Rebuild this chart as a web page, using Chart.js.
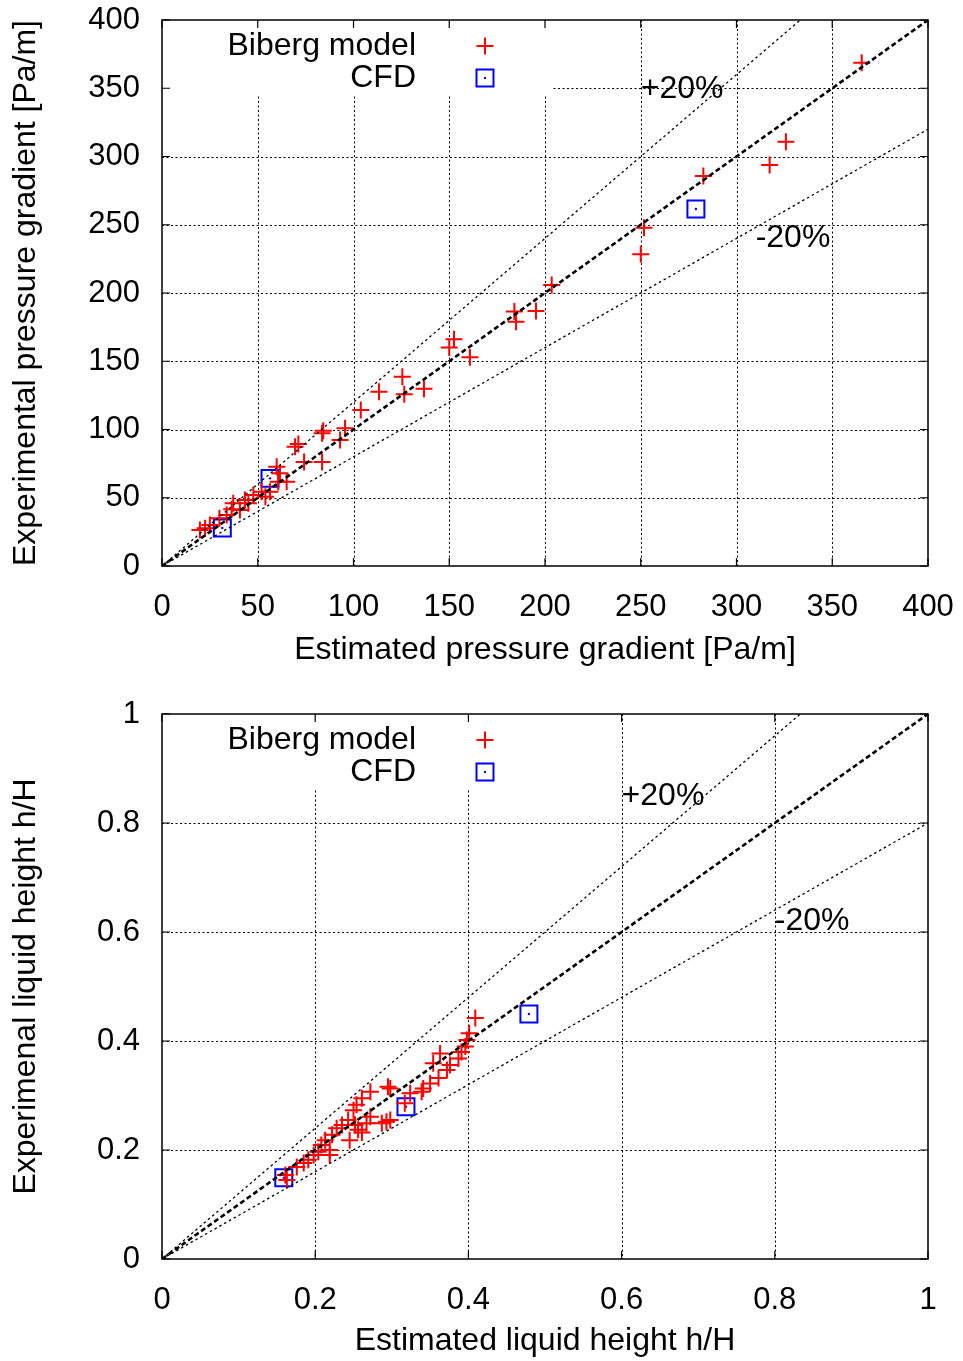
<!DOCTYPE html>
<html>
<head>
<meta charset="utf-8">
<script src="https://cdn.jsdelivr.net/npm/chart.js@4/dist/chart.umd.min.js"></script>
<style>
  html, body { margin: 0; padding: 0; background: #fff; }
  canvas { display: block; }
</style>
</head>
<body>
<canvas id="dp" width="963" height="680"></canvas>
<canvas id="hl" width="963" height="681"></canvas>
<script>
// Pressure gradient: estimated vs experimental [Pa/m]
const DP_BIBERG = [
  [19.8, 26.4], [22.5, 27.6], [25, 30], [30, 35], [33.8, 37.4], [36.4, 41.5], [37.2, 45.9],
  [40.7, 41], [43.3, 48.4], [45.1, 45.9], [47.7, 52], [52, 54.4], [54, 50.8], [56.4, 54.4],
  [59.9, 72.7], [61.6, 67.9], [65.1, 61.8], [60.7, 61.8], [69.5, 87.4], [71.2, 89.4],
  [74.2, 76.2], [83.6, 97.2], [84.2, 99.1], [83.6, 76.2], [93, 92.3], [95.6, 100.9],
  [103.8, 114.3], [113.3, 127.7], [125.5, 138.7], [126.5, 125.8], [136.8, 129.9],
  [150, 160], [152.5, 166.1], [160.8, 152.9], [184, 186.5], [184.9, 179], [195.3, 186.8],
  [203.5, 205.9], [250, 228.3], [251.7, 247.8], [282.7, 285.7], [317.3, 293.8],
  [325.8, 310.8], [365.4, 368.7]
];
const DP_CFD = [[31.5, 27.8], [56.4, 64.2], [278.8, 261.5]];
const DP_RANGE = [0, 400];
const DP_STEP = 50;
const DP_NOTES = [['+20%', 250, 349], ['-20%', 310, 240]];

// Liquid height: estimated vs experimental h/H
const HL_BIBERG = [
  [0.161, 0.154], [0.163, 0.145], [0.176, 0.169], [0.185, 0.176], [0.191, 0.182],
  [0.198, 0.191], [0.204, 0.197], [0.208, 0.209], [0.213, 0.218], [0.219, 0.200],
  [0.219, 0.191], [0.222, 0.228], [0.228, 0.240], [0.235, 0.246], [0.243, 0.255],
  [0.245, 0.218], [0.250, 0.273], [0.252, 0.246], [0.254, 0.283], [0.256, 0.237],
  [0.261, 0.295], [0.261, 0.232], [0.267, 0.249], [0.272, 0.307], [0.272, 0.261],
  [0.287, 0.249], [0.293, 0.252], [0.295, 0.316], [0.298, 0.313], [0.298, 0.255],
  [0.317, 0.286], [0.324, 0.304], [0.339, 0.307], [0.341, 0.313], [0.350, 0.322],
  [0.354, 0.359], [0.361, 0.332], [0.363, 0.377], [0.372, 0.347], [0.376, 0.356],
  [0.387, 0.368], [0.391, 0.380], [0.396, 0.390], [0.398, 0.402], [0.401, 0.414],
  [0.409, 0.442]
];
const HL_CFD = [[0.159, 0.149], [0.3185, 0.2795], [0.479, 0.4495]];
const HL_RANGE = [0, 1];
const HL_STEP = 0.2;
const HL_NOTES = [['+20%', 0.6, 0.85], ['-20%', 0.8, 0.62]];

const SERIES_NAMES = ['Biberg model', 'CFD'];
const FONT = "'Liberation Sans', Arial, sans-serif";
const RED = '#ff0000';
const BLUE = '#0000ff';

Chart.defaults.font.family = FONT;
Chart.defaults.color = '#000';

const toXY = arr => arr.map(([x, y]) => ({ x, y }));
// y = k*x across the full range
const ratioLine = (range, k) => [{ x: range[0], y: range[0] * k }, { x: range[1], y: range[1] * k }];
const tickFmt = v => String(Math.round(v * 10) / 10);

// fixed axis boxes, no automatic label overhang padding
const fixBox = (s, size) => {
  if (s.isHorizontal()) s.height = size; else s.width = size;
  s.paddingTop = s.paddingBottom = s.paddingLeft = s.paddingRight = 0;
};

// gnuplot-like frame: dotted grid, inward mirrored ticks, key and line labels
const frame = {
  id: 'frame',
  beforeDatasetsDraw(chart, args, o) {
    const { ctx, chartArea: a, scales: { x, y } } = chart;
    ctx.save();
    ctx.strokeStyle = '#000';
    ctx.lineWidth = 1;
    ctx.setLineDash([2, 2.5]);
    ctx.beginPath();
    x.ticks.forEach(t => {
      if (t.value <= x.min || t.value >= x.max) return;
      const px = Math.round(x.getPixelForValue(t.value)) + 0.5;
      ctx.moveTo(px, a.top); ctx.lineTo(px, a.bottom);
    });
    y.ticks.forEach(t => {
      if (t.value <= y.min || t.value >= y.max) return;
      const py = Math.round(y.getPixelForValue(t.value)) + 0.5;
      ctx.moveTo(a.left, py); ctx.lineTo(a.right, py);
    });
    ctx.stroke();
    // key area is kept clear of grid
    ctx.fillStyle = '#fff';
    ctx.fillRect(a.left + 1, a.top + 1, o.keyWidth, o.keyHeight);
    ctx.restore();
  },
  afterDatasetsDraw(chart, args, o) {
    const { ctx, chartArea: a, scales: { x, y } } = chart;
    ctx.save();
    ctx.strokeStyle = '#000';
    ctx.lineWidth = 1.5;
    ctx.strokeRect(a.left, a.top, a.right - a.left, a.bottom - a.top);
    const tl = 8;
    ctx.lineWidth = 1.2;
    ctx.beginPath();
    x.ticks.forEach(t => {
      const px = x.getPixelForValue(t.value);
      ctx.moveTo(px, a.bottom); ctx.lineTo(px, a.bottom - tl);
      ctx.moveTo(px, a.top); ctx.lineTo(px, a.top + tl);
    });
    y.ticks.forEach(t => {
      const py = y.getPixelForValue(t.value);
      ctx.moveTo(a.left, py); ctx.lineTo(a.left + tl, py);
      ctx.moveTo(a.right, py); ctx.lineTo(a.right - tl, py);
    });
    ctx.stroke();

    // +/-20% labels
    ctx.fillStyle = '#000';
    ctx.font = '32px ' + FONT;
    ctx.textAlign = 'left';
    ctx.textBaseline = 'middle';
    o.notes.forEach(([txt, vx, vy]) => {
      ctx.fillText(txt, x.getPixelForValue(vx), y.getPixelForValue(vy));
    });

    // key
    const tx = a.left + o.keyText, mx = a.left + o.keyMark;
    const y1 = a.top + o.keyRow1, y2 = a.top + o.keyRow2;
    ctx.textAlign = 'right';
    ctx.fillText(SERIES_NAMES[0], tx, y1);
    ctx.fillText(SERIES_NAMES[1], tx, y2);
    ctx.strokeStyle = RED;
    ctx.lineWidth = 2;
    ctx.beginPath();
    ctx.moveTo(mx - 8.5, y1); ctx.lineTo(mx + 8.5, y1);
    ctx.moveTo(mx, y1 - 8.5); ctx.lineTo(mx, y1 + 8.5);
    ctx.stroke();
    ctx.strokeStyle = BLUE;
    ctx.strokeRect(mx - 8.5, y2 - 8.5, 17, 17);
    ctx.fillStyle = BLUE;
    ctx.fillRect(mx - 1, y2 - 1, 2, 2);
    ctx.restore();
  }
};

function makeChart(canvas, { biberg, cfd, range, step, notes, xTitle, yTitle, padTop, xAxisHeight, xTitlePad }) {
  return new Chart(canvas, {
    type: 'scatter',
    data: {
      datasets: [
        { data: ratioLine(range, 1), showLine: true, borderColor: '#000', borderWidth: 2.6,
          borderDash: [5, 3], pointRadius: 0 },
        { data: ratioLine(range, 1.2), showLine: true, borderColor: '#000', borderWidth: 1.3,
          borderDash: [2.5, 3], pointRadius: 0 },
        { data: ratioLine(range, 0.8), showLine: true, borderColor: '#000', borderWidth: 1.3,
          borderDash: [2.5, 3], pointRadius: 0 },
        { label: SERIES_NAMES[0], data: toXY(biberg), pointStyle: 'cross', pointRadius: 8.5,
          borderColor: RED, borderWidth: 2 },
        { label: SERIES_NAMES[1], data: toXY(cfd), pointStyle: 'rect', pointRadius: 12,
          borderColor: BLUE, backgroundColor: 'rgba(0,0,0,0)', borderWidth: 2 },
        { data: toXY(cfd), pointStyle: 'circle', pointRadius: 1.2,
          backgroundColor: BLUE, borderWidth: 0 }
      ]
    },
    options: {
      responsive: false,
      devicePixelRatio: 1,
      animation: false,
      events: [],
      layout: { padding: { top: padTop, right: 35, left: 0, bottom: 0 } },
      plugins: {
        legend: { display: false },
        tooltip: { enabled: false },
        frame: { notes, keyWidth: 390, keyHeight: 75, keyText: 254, keyMark: 323, keyRow1: 26, keyRow2: 58 }
      },
      scales: {
        x: {
          type: 'linear', min: range[0], max: range[1],
          grid: { display: false }, border: { display: false },
          ticks: { stepSize: step, autoSkip: false, maxRotation: 0, padding: 15, font: { size: 31 },
            color: '#000', callback: tickFmt },
          title: { display: true, text: xTitle, color: '#000', font: { size: 32 }, padding: { top: 0, bottom: xTitlePad } },
          afterFit: s => fixBox(s, xAxisHeight)
        },
        y: {
          type: 'linear', min: range[0], max: range[1],
          grid: { display: false }, border: { display: false },
          ticks: { stepSize: step, autoSkip: false, padding: 14, font: { size: 31 },
            color: '#000', callback: tickFmt },
          title: { display: true, text: yTitle, color: '#000', font: { size: 32 }, padding: { top: 6.5, bottom: 0 } },
          afterFit: s => fixBox(s, 162)
        }
      }
    },
    plugins: [frame]
  });
}

makeChart(document.getElementById('dp'), {
  biberg: DP_BIBERG, cfd: DP_CFD, range: DP_RANGE, step: DP_STEP, notes: DP_NOTES,
  xTitle: 'Estimated pressure gradient [Pa/m]',
  yTitle: 'Experimental pressure gradient [Pa/m]',
  padTop: 20, xAxisHeight: 114, xTitlePad: 10.5
});

makeChart(document.getElementById('hl'), {
  biberg: HL_BIBERG, cfd: HL_CFD, range: HL_RANGE, step: HL_STEP, notes: HL_NOTES,
  xTitle: 'Estimated liquid height h/H',
  yTitle: 'Experimenal liquid height h/H',
  padTop: 34, xAxisHeight: 102, xTitlePad: 0.5
});
</script>
</body>
</html>
